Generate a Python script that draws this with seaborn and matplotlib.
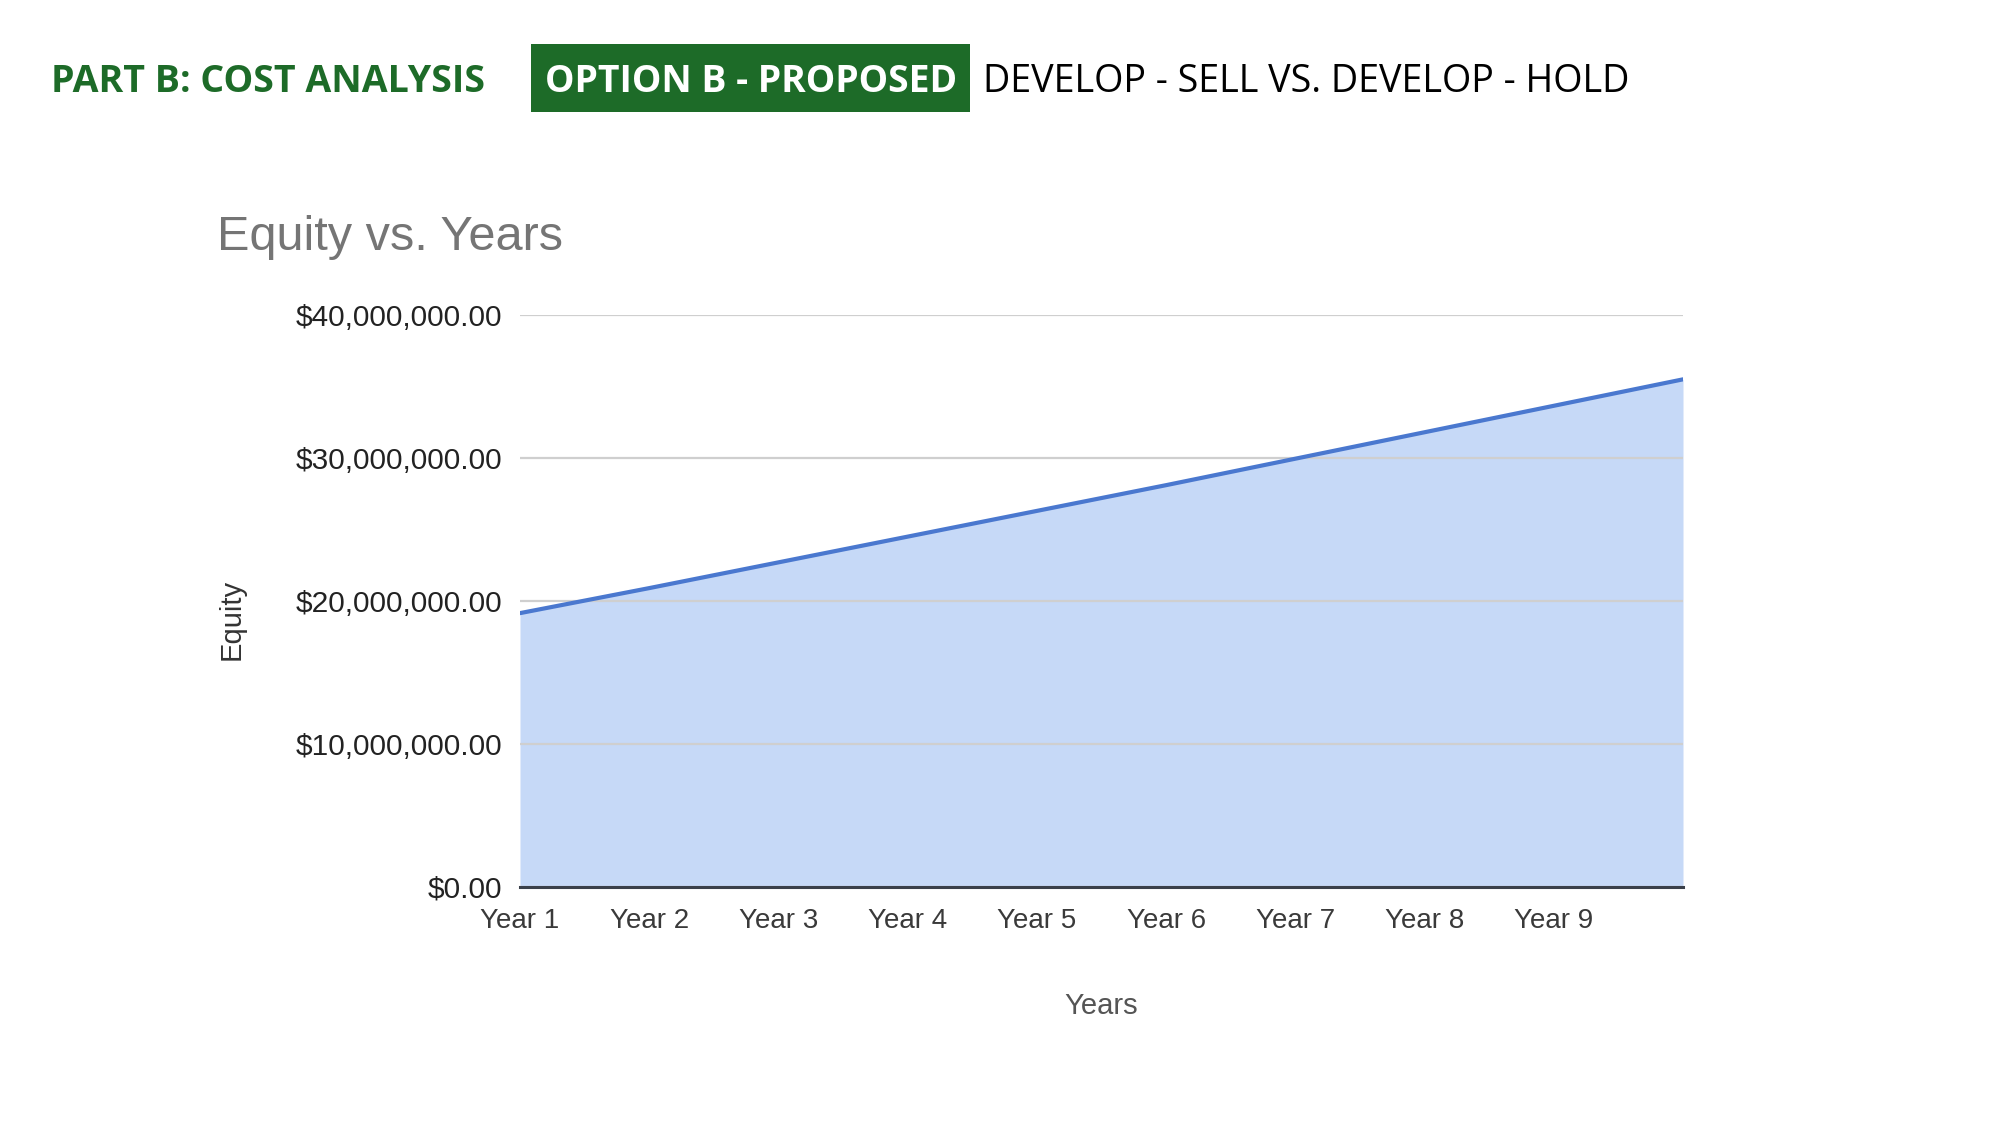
import matplotlib
matplotlib.use("Agg")
import matplotlib.pyplot as plt
import matplotlib.ticker as mticker
from matplotlib.patches import Rectangle
import seaborn as sns
import pandas as pd

years = ["Year 1", "Year 2", "Year 3", "Year 4", "Year 5",
         "Year 6", "Year 7", "Year 8", "Year 9", "Year 10"]
equity = [19.15e6, 20.9e6, 22.7e6, 24.5e6, 26.3e6,
          28.1e6, 29.95e6, 31.8e6, 33.65e6, 35.5e6]
y_ticks = [0, 10e6, 20e6, 30e6, 40e6]

df = pd.DataFrame({"idx": range(len(years)), "Years": years, "Equity": equity})

sns.set_theme(style="white")
plt.rcParams["font.family"] = ["Liberation Sans", "DejaVu Sans"]

fig = plt.figure(figsize=(20, 11.25), dpi=100)
ax = fig.add_axes([0.26, 0.2116, 0.5815, 0.5084])

ax.fill_between(df["idx"], df["Equity"], 0, color="#c6d9f7", linewidth=0, zorder=1)
sns.lineplot(data=df, x="idx", y="Equity", ax=ax, color="#4a78cf", linewidth=3.0, zorder=3)

ax.set_xlim(0, len(years) - 1)
ax.set_ylim(0, 40e6)
ax.set_yticks(y_ticks)
ax.yaxis.set_major_formatter(mticker.FuncFormatter(lambda v, p: f"${v:,.2f}"))
ax.set_xticks(df["idx"][:-1])
ax.set_xticklabels(years[:-1])

ax.grid(axis="y", color="#cfcfcf", linewidth=1.6, zorder=2)
ax.set_axisbelow(False)
for s in ["top", "right", "left"]:
    ax.spines[s].set_visible(False)
ax.spines["bottom"].set_color("#3a404a")
ax.spines["bottom"].set_linewidth(2.2)
ax.spines["bottom"].set_zorder(4)

ax.tick_params(axis="y", length=0, pad=13, labelsize=21.5, labelcolor="#222222")
ax.tick_params(axis="x", length=0, pad=15, labelsize=20, labelcolor="#3a3a3a")

ax.set_xlabel("Years", fontsize=21, color="#555555")
ax.set_ylabel("Equity", fontsize=21, color="#333333")
ax.xaxis.set_label_coords(0.5, -0.183)
ax.yaxis.set_label_coords(-0.236, 0.4685)

fig.text(0.1085, 0.789, "Equity vs. Years", fontsize=35, color="#757575", va="center", ha="left")

# header
green = "#1d6b28"
fig.patches.append(Rectangle((0.2655, 0.9004), 0.2195, 0.0604, transform=fig.transFigure,
                             facecolor=green, edgecolor="none"))
fig.text(0.0255, 0.918, "PART B: COST ANALYSIS", fontsize=27, fontweight="bold",
         color=green, family=["Open Sans", "DejaVu Sans"], va="baseline")
fig.text(0.2725, 0.918, "OPTION B - PROPOSED", fontsize=26.8, fontweight="bold",
         color="white", family=["Open Sans", "DejaVu Sans"], va="baseline")
fig.text(0.4915, 0.918, "DEVELOP - SELL VS. DEVELOP - HOLD", fontsize=27.2,
         color="black", family=["Open Sans", "DejaVu Sans"], va="baseline")

fig.savefig("out.png", dpi=100, facecolor="white")
